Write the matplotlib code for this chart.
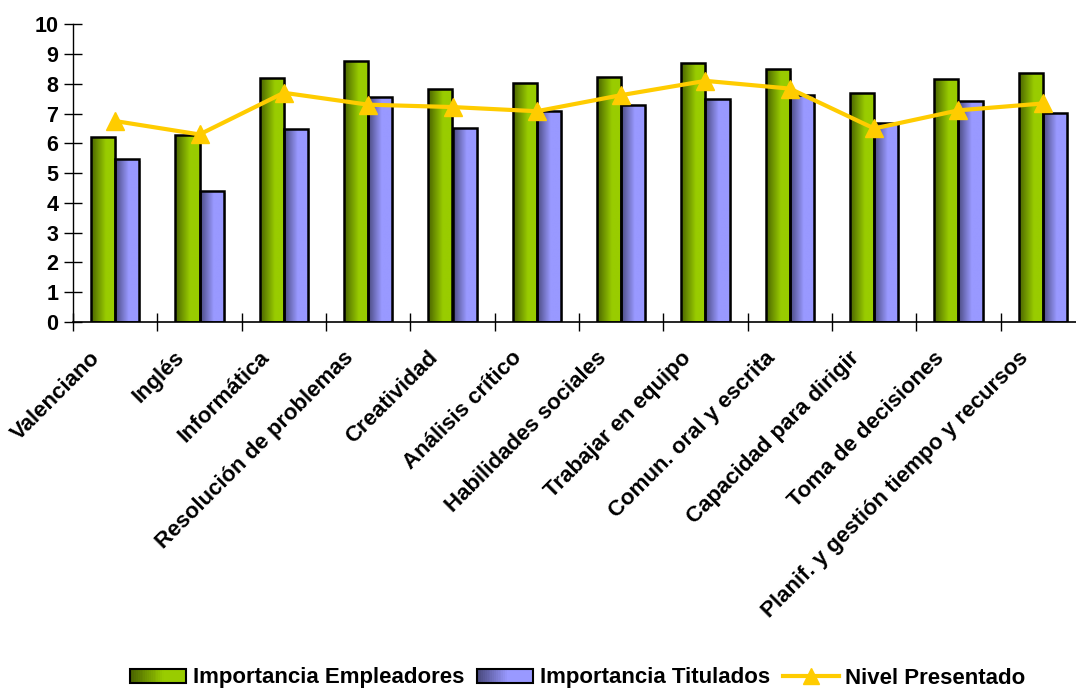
import numpy as np
import matplotlib
matplotlib.use('Agg')
import matplotlib.pyplot as plt
import matplotlib.patches as patches
import matplotlib.transforms as mtransforms
from matplotlib.legend_handler import HandlerBase
from matplotlib.lines import Line2D
from matplotlib.colors import LinearSegmentedColormap

plt.rcParams['font.family'] = ['Liberation Sans', 'DejaVu Sans']
plt.rcParams['font.weight'] = 'bold'

categories = ['Valenciano', 'Inglés', 'Informática', 'Resolución de problemas',
              'Creatividad', 'Análisis crítico', 'Habilidades sociales',
              'Trabajar en equipo', 'Comun. oral y escrita', 'Capacidad para dirigir',
              'Toma de decisiones', 'Planif. y gestión tiempo y recursos']
empleadores = [6.23, 6.29, 8.18, 8.78, 7.83, 8.04, 8.23, 8.71, 8.50, 7.69, 8.16, 8.38]
titulados = [5.48, 4.41, 6.49, 7.56, 6.50, 7.10, 7.29, 7.49, 7.64, 6.70, 7.44, 7.02]
nivel = [6.75, 6.30, 7.70, 7.30, 7.22, 7.08, 7.62, 8.10, 7.84, 6.50, 7.11, 7.34]
series_names = ['Importancia Empleadores', 'Importancia Titulados', 'Nivel Presentado']

green_cmap = LinearSegmentedColormap.from_list(
    'g', [(0, '#4a6400'), (0.6, '#99cc00'), (1, '#99cc00')])
blue_cmap = LinearSegmentedColormap.from_list(
    'b', [(0, '#4a4a80'), (0.55, '#9999ff'), (1, '#9999ff')])
line_color = '#ffcc00'

fig = plt.figure(figsize=(10.76, 6.93), dpi=100)
ax = fig.add_axes([73 / 1076, 371 / 693, 1012 / 1076, 297.7 / 693])

x = np.arange(len(categories))
w = 0.285
grad = np.linspace(0, 1, 64).reshape(1, -1)


def gradient_bars(xs, vals, cmap):
    # soft grey shadow behind the bars
    shadow_tr = mtransforms.offset_copy(ax.transData, fig=fig, x=2, y=-2, units='dots')
    ax.bar(xs, vals, w, color='#aaaaaa', alpha=0.6, transform=shadow_tr, zorder=1,
           linewidth=0)
    bars = ax.bar(xs, vals, w, facecolor='none', edgecolor='black', linewidth=1.8, zorder=3)
    for b in bars:
        x0, y0 = b.get_x(), b.get_y()
        im = ax.imshow(grad, cmap=cmap, aspect='auto', zorder=2,
                       extent=(x0, x0 + b.get_width(), y0, y0 + b.get_height()),
                       interpolation='bilinear')
        im.set_clip_path(b)
    return bars


gradient_bars(x - w / 2, empleadores, green_cmap)
gradient_bars(x + w / 2, titulados, blue_cmap)
ax.plot(x, nivel, color=line_color, linewidth=3, marker='^', markersize=13, zorder=4)

ax.set_xlim(-0.5, len(categories) - 0.5)
ax.set_ylim(0, 10)
ax.set_yticks(range(0, 11))
ax.tick_params(axis='y', direction='inout', length=13, width=1, labelsize=15.5, pad=4)
ax.set_xticks(np.arange(len(categories) + 1) - 0.5)
ax.set_xticklabels([])
ax.tick_params(axis='x', direction='inout', length=13, width=1)
for lab in ax.get_yticklabels():
    lab.set_fontweight('bold')
for s in ['top', 'right']:
    ax.spines[s].set_visible(False)
ax.spines['left'].set_linewidth(1)
ax.spines['bottom'].set_linewidth(1.2)

for i, name in enumerate(categories):
    ax.text(i - 0.3, -0.85, name, rotation=45, rotation_mode='anchor',
            ha='right', va='top', fontsize=16, fontweight='bold', clip_on=False)


class GradientHandler(HandlerBase):
    def __init__(self, cmap):
        super().__init__()
        self.cmap = cmap

    def create_artists(self, legend, orig_handle, xdescent, ydescent, width, height,
                       fontsize, trans):
        arts = []
        n = 30
        for k in range(n):
            r = patches.Rectangle((-xdescent + width * k / n, -ydescent), width / n + 0.3,
                                  height, facecolor=self.cmap(k / (n - 1)),
                                  edgecolor='none', transform=trans)
            arts.append(r)
        frame = patches.Rectangle((-xdescent, -ydescent), width, height, facecolor='none',
                                  edgecolor='black', linewidth=1.5, transform=trans)
        arts.append(frame)
        return arts


h1 = patches.Rectangle((0, 0), 1, 1)
h2 = patches.Rectangle((0, 0), 1, 1)
h3 = Line2D([], [], color=line_color, linewidth=3, marker='^', markersize=12)
fig.legend([h1, h2, h3], series_names, loc='center', bbox_to_anchor=(578 / 1076, 15 / 693),
           ncol=3, frameon=False, handlelength=2.5, handleheight=0.6, handletextpad=0.3,
           columnspacing=0.6, borderpad=0,
           handler_map={h1: GradientHandler(green_cmap), h2: GradientHandler(blue_cmap)},
           prop={'weight': 'bold', 'size': 16})

fig.savefig('out.png', dpi=100)
